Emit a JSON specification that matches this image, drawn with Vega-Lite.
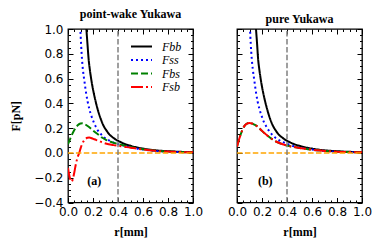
{
  "$schema": "https://vega.github.io/schema/vega-lite/v6.json",
  "padding": {"left": 9, "top": 7, "right": 5, "bottom": 5},
  "datasets": {
    "curves": [
      {"p":"a","s":"Fbb","r":0.13,"F":1.3},{"p":"a","s":"Fbb","r":0.14,"F":1.1},{"p":"a","s":"Fbb","r":0.147,"F":1.0},{"p":"a","s":"Fbb","r":0.155,"F":0.89},{"p":"a","s":"Fbb","r":0.165,"F":0.757},{"p":"a","s":"Fbb","r":0.175,"F":0.67},{"p":"a","s":"Fbb","r":0.185,"F":0.6},{"p":"a","s":"Fbb","r":0.195,"F":0.54},{"p":"a","s":"Fbb","r":0.205,"F":0.488},{"p":"a","s":"Fbb","r":0.22,"F":0.42},{"p":"a","s":"Fbb","r":0.237,"F":0.353},{"p":"a","s":"Fbb","r":0.26,"F":0.28},{"p":"a","s":"Fbb","r":0.285,"F":0.218},{"p":"a","s":"Fbb","r":0.31,"F":0.178},{"p":"a","s":"Fbb","r":0.33,"F":0.15},{"p":"a","s":"Fbb","r":0.355,"F":0.128},{"p":"a","s":"Fbb","r":0.379,"F":0.11},{"p":"a","s":"Fbb","r":0.42,"F":0.088},{"p":"a","s":"Fbb","r":0.459,"F":0.07},{"p":"a","s":"Fbb","r":0.5,"F":0.058},{"p":"a","s":"Fbb","r":0.55,"F":0.045},{"p":"a","s":"Fbb","r":0.6,"F":0.035},{"p":"a","s":"Fbb","r":0.65,"F":0.027},{"p":"a","s":"Fbb","r":0.7,"F":0.021},{"p":"a","s":"Fbb","r":0.75,"F":0.017},{"p":"a","s":"Fbb","r":0.8,"F":0.014},{"p":"a","s":"Fbb","r":0.85,"F":0.011},{"p":"a","s":"Fbb","r":0.9,"F":0.009},{"p":"a","s":"Fbb","r":0.95,"F":0.007},{"p":"a","s":"Fbb","r":1.0,"F":0.006},

      {"p":"a","s":"Fss","r":0.088,"F":1.3},{"p":"a","s":"Fss","r":0.094,"F":1.13},{"p":"a","s":"Fss","r":0.099,"F":1.0},{"p":"a","s":"Fss","r":0.105,"F":0.87},{"p":"a","s":"Fss","r":0.112,"F":0.757},{"p":"a","s":"Fss","r":0.12,"F":0.665},{"p":"a","s":"Fss","r":0.13,"F":0.59},{"p":"a","s":"Fss","r":0.144,"F":0.488},{"p":"a","s":"Fss","r":0.157,"F":0.415},{"p":"a","s":"Fss","r":0.171,"F":0.353},{"p":"a","s":"Fss","r":0.19,"F":0.29},{"p":"a","s":"Fss","r":0.205,"F":0.25},{"p":"a","s":"Fss","r":0.219,"F":0.218},{"p":"a","s":"Fss","r":0.24,"F":0.18},{"p":"a","s":"Fss","r":0.265,"F":0.15},{"p":"a","s":"Fss","r":0.29,"F":0.125},{"p":"a","s":"Fss","r":0.312,"F":0.11},{"p":"a","s":"Fss","r":0.35,"F":0.09},{"p":"a","s":"Fss","r":0.38,"F":0.077},{"p":"a","s":"Fss","r":0.419,"F":0.067},{"p":"a","s":"Fss","r":0.46,"F":0.055},{"p":"a","s":"Fss","r":0.5,"F":0.045},{"p":"a","s":"Fss","r":0.55,"F":0.035},{"p":"a","s":"Fss","r":0.6,"F":0.027},{"p":"a","s":"Fss","r":0.65,"F":0.021},{"p":"a","s":"Fss","r":0.7,"F":0.016},{"p":"a","s":"Fss","r":0.75,"F":0.013},{"p":"a","s":"Fss","r":0.8,"F":0.01},{"p":"a","s":"Fss","r":0.85,"F":0.008},{"p":"a","s":"Fss","r":0.9,"F":0.006},{"p":"a","s":"Fss","r":0.95,"F":0.005},{"p":"a","s":"Fss","r":1.0,"F":0.004},

      {"p":"a","s":"Fbs","r":0.0,"F":0.07},{"p":"a","s":"Fbs","r":0.02,"F":0.12},{"p":"a","s":"Fbs","r":0.04,"F":0.165},{"p":"a","s":"Fbs","r":0.06,"F":0.2},{"p":"a","s":"Fbs","r":0.08,"F":0.225},{"p":"a","s":"Fbs","r":0.1,"F":0.238},{"p":"a","s":"Fbs","r":0.117,"F":0.24},{"p":"a","s":"Fbs","r":0.135,"F":0.232},{"p":"a","s":"Fbs","r":0.16,"F":0.215},{"p":"a","s":"Fbs","r":0.19,"F":0.19},{"p":"a","s":"Fbs","r":0.22,"F":0.165},{"p":"a","s":"Fbs","r":0.25,"F":0.143},{"p":"a","s":"Fbs","r":0.272,"F":0.124},{"p":"a","s":"Fbs","r":0.3,"F":0.108},{"p":"a","s":"Fbs","r":0.34,"F":0.09},{"p":"a","s":"Fbs","r":0.379,"F":0.078},{"p":"a","s":"Fbs","r":0.42,"F":0.066},{"p":"a","s":"Fbs","r":0.459,"F":0.057},{"p":"a","s":"Fbs","r":0.5,"F":0.048},{"p":"a","s":"Fbs","r":0.55,"F":0.038},{"p":"a","s":"Fbs","r":0.6,"F":0.03},{"p":"a","s":"Fbs","r":0.65,"F":0.024},{"p":"a","s":"Fbs","r":0.7,"F":0.018},{"p":"a","s":"Fbs","r":0.75,"F":0.014},{"p":"a","s":"Fbs","r":0.8,"F":0.011},{"p":"a","s":"Fbs","r":0.85,"F":0.009},{"p":"a","s":"Fbs","r":0.9,"F":0.007},{"p":"a","s":"Fbs","r":0.95,"F":0.006},{"p":"a","s":"Fbs","r":1.0,"F":0.005},

      {"p":"a","s":"Fsb","r":0.0,"F":-0.12},{"p":"a","s":"Fsb","r":0.01,"F":-0.18},{"p":"a","s":"Fsb","r":0.02,"F":-0.22},{"p":"a","s":"Fsb","r":0.03,"F":-0.23},{"p":"a","s":"Fsb","r":0.04,"F":-0.205},{"p":"a","s":"Fsb","r":0.05,"F":-0.16},{"p":"a","s":"Fsb","r":0.06,"F":-0.105},{"p":"a","s":"Fsb","r":0.07,"F":-0.06},{"p":"a","s":"Fsb","r":0.08,"F":-0.025},{"p":"a","s":"Fsb","r":0.09,"F":0.0},{"p":"a","s":"Fsb","r":0.1,"F":0.035},{"p":"a","s":"Fsb","r":0.11,"F":0.065},{"p":"a","s":"Fsb","r":0.125,"F":0.095},{"p":"a","s":"Fsb","r":0.14,"F":0.112},{"p":"a","s":"Fsb","r":0.155,"F":0.122},{"p":"a","s":"Fsb","r":0.17,"F":0.124},{"p":"a","s":"Fsb","r":0.19,"F":0.118},{"p":"a","s":"Fsb","r":0.21,"F":0.11},{"p":"a","s":"Fsb","r":0.245,"F":0.097},{"p":"a","s":"Fsb","r":0.28,"F":0.083},{"p":"a","s":"Fsb","r":0.325,"F":0.07},{"p":"a","s":"Fsb","r":0.365,"F":0.063},{"p":"a","s":"Fsb","r":0.405,"F":0.057},{"p":"a","s":"Fsb","r":0.45,"F":0.05},{"p":"a","s":"Fsb","r":0.5,"F":0.042},{"p":"a","s":"Fsb","r":0.55,"F":0.035},{"p":"a","s":"Fsb","r":0.6,"F":0.028},{"p":"a","s":"Fsb","r":0.65,"F":0.022},{"p":"a","s":"Fsb","r":0.7,"F":0.017},{"p":"a","s":"Fsb","r":0.75,"F":0.013},{"p":"a","s":"Fsb","r":0.8,"F":0.011},{"p":"a","s":"Fsb","r":0.85,"F":0.009},{"p":"a","s":"Fsb","r":0.9,"F":0.007},{"p":"a","s":"Fsb","r":0.95,"F":0.006},{"p":"a","s":"Fsb","r":1.0,"F":0.005},

      {"p":"b","s":"Fbb","r":0.135,"F":1.3},{"p":"b","s":"Fbb","r":0.145,"F":1.1},{"p":"b","s":"Fbb","r":0.152,"F":1.0},{"p":"b","s":"Fbb","r":0.16,"F":0.89},{"p":"b","s":"Fbb","r":0.169,"F":0.757},{"p":"b","s":"Fbb","r":0.179,"F":0.67},{"p":"b","s":"Fbb","r":0.189,"F":0.6},{"p":"b","s":"Fbb","r":0.199,"F":0.54},{"p":"b","s":"Fbb","r":0.209,"F":0.488},{"p":"b","s":"Fbb","r":0.224,"F":0.42},{"p":"b","s":"Fbb","r":0.241,"F":0.353},{"p":"b","s":"Fbb","r":0.263,"F":0.28},{"p":"b","s":"Fbb","r":0.288,"F":0.218},{"p":"b","s":"Fbb","r":0.312,"F":0.178},{"p":"b","s":"Fbb","r":0.332,"F":0.15},{"p":"b","s":"Fbb","r":0.357,"F":0.128},{"p":"b","s":"Fbb","r":0.38,"F":0.11},{"p":"b","s":"Fbb","r":0.42,"F":0.088},{"p":"b","s":"Fbb","r":0.459,"F":0.07},{"p":"b","s":"Fbb","r":0.5,"F":0.058},{"p":"b","s":"Fbb","r":0.55,"F":0.045},{"p":"b","s":"Fbb","r":0.6,"F":0.035},{"p":"b","s":"Fbb","r":0.65,"F":0.027},{"p":"b","s":"Fbb","r":0.7,"F":0.021},{"p":"b","s":"Fbb","r":0.75,"F":0.017},{"p":"b","s":"Fbb","r":0.8,"F":0.014},{"p":"b","s":"Fbb","r":0.85,"F":0.011},{"p":"b","s":"Fbb","r":0.9,"F":0.009},{"p":"b","s":"Fbb","r":0.95,"F":0.007},{"p":"b","s":"Fbb","r":1.0,"F":0.006},

      {"p":"b","s":"Fss","r":0.092,"F":1.3},{"p":"b","s":"Fss","r":0.098,"F":1.13},{"p":"b","s":"Fss","r":0.104,"F":1.0},{"p":"b","s":"Fss","r":0.11,"F":0.88},{"p":"b","s":"Fss","r":0.118,"F":0.76},{"p":"b","s":"Fss","r":0.127,"F":0.67},{"p":"b","s":"Fss","r":0.138,"F":0.59},{"p":"b","s":"Fss","r":0.152,"F":0.488},{"p":"b","s":"Fss","r":0.165,"F":0.415},{"p":"b","s":"Fss","r":0.18,"F":0.353},{"p":"b","s":"Fss","r":0.2,"F":0.29},{"p":"b","s":"Fss","r":0.215,"F":0.25},{"p":"b","s":"Fss","r":0.232,"F":0.218},{"p":"b","s":"Fss","r":0.255,"F":0.18},{"p":"b","s":"Fss","r":0.28,"F":0.148},{"p":"b","s":"Fss","r":0.3,"F":0.128},{"p":"b","s":"Fss","r":0.325,"F":0.11},{"p":"b","s":"Fss","r":0.36,"F":0.09},{"p":"b","s":"Fss","r":0.4,"F":0.074},{"p":"b","s":"Fss","r":0.45,"F":0.056},{"p":"b","s":"Fss","r":0.5,"F":0.044},{"p":"b","s":"Fss","r":0.55,"F":0.035},{"p":"b","s":"Fss","r":0.6,"F":0.027},{"p":"b","s":"Fss","r":0.65,"F":0.021},{"p":"b","s":"Fss","r":0.7,"F":0.016},{"p":"b","s":"Fss","r":0.75,"F":0.013},{"p":"b","s":"Fss","r":0.8,"F":0.01},{"p":"b","s":"Fss","r":0.85,"F":0.008},{"p":"b","s":"Fss","r":0.9,"F":0.006},{"p":"b","s":"Fss","r":0.95,"F":0.005},{"p":"b","s":"Fss","r":1.0,"F":0.004},

      {"p":"b","s":"Fbs","r":0.0,"F":0.05},{"p":"b","s":"Fbs","r":0.02,"F":0.12},{"p":"b","s":"Fbs","r":0.04,"F":0.178},{"p":"b","s":"Fbs","r":0.06,"F":0.218},{"p":"b","s":"Fbs","r":0.08,"F":0.237},{"p":"b","s":"Fbs","r":0.099,"F":0.242},{"p":"b","s":"Fbs","r":0.12,"F":0.238},{"p":"b","s":"Fbs","r":0.14,"F":0.228},{"p":"b","s":"Fbs","r":0.165,"F":0.212},{"p":"b","s":"Fbs","r":0.2,"F":0.178},{"p":"b","s":"Fbs","r":0.245,"F":0.138},{"p":"b","s":"Fbs","r":0.28,"F":0.112},{"p":"b","s":"Fbs","r":0.325,"F":0.086},{"p":"b","s":"Fbs","r":0.365,"F":0.07},{"p":"b","s":"Fbs","r":0.405,"F":0.058},{"p":"b","s":"Fbs","r":0.45,"F":0.049},{"p":"b","s":"Fbs","r":0.5,"F":0.04},{"p":"b","s":"Fbs","r":0.55,"F":0.033},{"p":"b","s":"Fbs","r":0.6,"F":0.026},{"p":"b","s":"Fbs","r":0.65,"F":0.021},{"p":"b","s":"Fbs","r":0.7,"F":0.016},{"p":"b","s":"Fbs","r":0.75,"F":0.013},{"p":"b","s":"Fbs","r":0.8,"F":0.01},{"p":"b","s":"Fbs","r":0.85,"F":0.008},{"p":"b","s":"Fbs","r":0.9,"F":0.007},{"p":"b","s":"Fbs","r":0.95,"F":0.006},{"p":"b","s":"Fbs","r":1.0,"F":0.005},

      {"p":"b","s":"Fsb","r":0.0,"F":0.05},{"p":"b","s":"Fsb","r":0.02,"F":0.12},{"p":"b","s":"Fsb","r":0.04,"F":0.178},{"p":"b","s":"Fsb","r":0.06,"F":0.218},{"p":"b","s":"Fsb","r":0.08,"F":0.237},{"p":"b","s":"Fsb","r":0.099,"F":0.242},{"p":"b","s":"Fsb","r":0.12,"F":0.238},{"p":"b","s":"Fsb","r":0.14,"F":0.228},{"p":"b","s":"Fsb","r":0.165,"F":0.212},{"p":"b","s":"Fsb","r":0.2,"F":0.178},{"p":"b","s":"Fsb","r":0.245,"F":0.138},{"p":"b","s":"Fsb","r":0.28,"F":0.112},{"p":"b","s":"Fsb","r":0.325,"F":0.086},{"p":"b","s":"Fsb","r":0.365,"F":0.07},{"p":"b","s":"Fsb","r":0.405,"F":0.058},{"p":"b","s":"Fsb","r":0.45,"F":0.049},{"p":"b","s":"Fsb","r":0.5,"F":0.04},{"p":"b","s":"Fsb","r":0.55,"F":0.033},{"p":"b","s":"Fsb","r":0.6,"F":0.026},{"p":"b","s":"Fsb","r":0.65,"F":0.021},{"p":"b","s":"Fsb","r":0.7,"F":0.016},{"p":"b","s":"Fsb","r":0.75,"F":0.013},{"p":"b","s":"Fsb","r":0.8,"F":0.01},{"p":"b","s":"Fsb","r":0.85,"F":0.008},{"p":"b","s":"Fsb","r":0.9,"F":0.007},{"p":"b","s":"Fsb","r":0.95,"F":0.006},{"p":"b","s":"Fsb","r":1.0,"F":0.005}
    ]
  },
  "hconcat": [
    {
      "width": 125, "height": 173.5,
      "title": {"text": "point-wake Yukawa"},
      "resolve": {"axis": {"x": "independent", "y": "independent"}},
      "layer": [
        {
          "data": {"name": "curves"},
          "transform": [{"filter": "datum.p === 'a'"}],
          "mark": {"type": "line", "clip": true, "strokeWidth": 2, "interpolate": "monotone"},
          "encoding": {
            "x": {"field": "r", "type": "quantitative", "scale": {"domain": [0, 1], "nice": false},
                  "axis": {"orient": "bottom", "values": [0, 0.2, 0.4, 0.6, 0.8, 1.0], "format": ".1f", "tickSize": -5, "labelPadding": 9, "title": "r[mm]", "titlePadding": 9}},
            "y": {"field": "F", "type": "quantitative", "scale": {"domain": [-0.4, 1.0], "nice": false, "zero": false},
                  "axis": {"orient": "left", "values": [-0.4, -0.2, 0, 0.2, 0.4, 0.6, 0.8, 1.0], "format": ".1f", "tickSize": -5, "labelPadding": 10, "title": "F[pN]", "titlePadding": 11}},
            "color": {"field": "s", "type": "nominal", "scale": {"domain": ["Fbb", "Fss", "Fbs", "Fsb"], "range": ["#000000", "#0000ff", "#008000", "#ff0000"]}, "legend": {"title": null, "orient": "top-right"}},
            "strokeDash": {"field": "s", "type": "nominal", "scale": {"domain": ["Fbb", "Fss", "Fbs", "Fsb"], "range": [[1, 0], [2, 3], [7, 3], [12, 3, 2, 3]]}, "legend": {"title": null, "orient": "top-right"}}
          }
        },
        {
          "data": {"values": [{}]},
          "mark": {"type": "rule", "color": "#ffa500", "strokeWidth": 1.5, "strokeDash": [5.5, 2.4]},
          "encoding": {
            "x": {"datum": 0, "type": "quantitative", "axis": {"orient": "bottom", "values": [0.05,0.1,0.15,0.25,0.3,0.35,0.45,0.5,0.55,0.65,0.7,0.75,0.85,0.9,0.95], "labels": false, "tickSize": -2.5, "title": null}},
            "x2": {"datum": 1},
            "y": {"datum": 0, "type": "quantitative", "axis": {"orient": "left", "values": [-0.35,-0.3,-0.25,-0.15,-0.1,-0.05,0.05,0.1,0.15,0.25,0.3,0.35,0.45,0.5,0.55,0.65,0.7,0.75,0.85,0.9,0.95], "labels": false, "tickSize": -2.5, "title": null}}
          }
        },
        {
          "data": {"values": [{}]},
          "mark": {"type": "rule", "color": "#808080", "strokeWidth": 1.5, "strokeDash": [5.5, 2.4]},
          "encoding": {
            "x": {"datum": 0.4, "type": "quantitative", "axis": {"orient": "top", "values": [0, 0.2, 0.4, 0.6, 0.8, 1.0], "labels": false, "tickSize": -5, "title": null}},
            "y": {"datum": -0.4, "type": "quantitative", "axis": {"orient": "right", "values": [-0.4, -0.2, 0, 0.2, 0.4, 0.6, 0.8, 1.0], "labels": false, "tickSize": -5, "title": null}},
            "y2": {"datum": 1.0}
          }
        },
        {
          "data": {"values": [{}]},
          "mark": {"type": "text", "font": "Liberation Serif", "fontWeight": "bold", "fontSize": 12, "color": "black"},
          "encoding": {
            "text": {"value": "(a)"},
            "x": {"datum": 0.21, "type": "quantitative", "axis": {"orient": "top", "values": [0.05,0.1,0.15,0.25,0.3,0.35,0.45,0.5,0.55,0.65,0.7,0.75,0.85,0.9,0.95], "labels": false, "tickSize": -2.5, "title": null}},
            "y": {"datum": -0.23, "type": "quantitative", "axis": {"orient": "right", "values": [-0.35,-0.3,-0.25,-0.15,-0.1,-0.05,0.05,0.1,0.15,0.25,0.3,0.35,0.45,0.5,0.55,0.65,0.7,0.75,0.85,0.9,0.95], "labels": false, "tickSize": -2.5, "title": null}}
          }
        }
      ]
    },
    {
      "width": 125, "height": 173.5,
      "title": {"text": "pure Yukawa"},
      "resolve": {"axis": {"x": "independent", "y": "independent"}},
      "layer": [
        {
          "data": {"name": "curves"},
          "transform": [{"filter": "datum.p === 'b'"}],
          "mark": {"type": "line", "clip": true, "strokeWidth": 2, "interpolate": "monotone"},
          "encoding": {
            "x": {"field": "r", "type": "quantitative", "scale": {"domain": [0, 1], "nice": false},
                  "axis": {"orient": "bottom", "values": [0, 0.2, 0.4, 0.6, 0.8, 1.0], "format": ".1f", "tickSize": -5, "labelPadding": 9, "title": "r[mm]", "titlePadding": 9}},
            "y": {"field": "F", "type": "quantitative", "scale": {"domain": [-0.4, 1.0], "nice": false, "zero": false},
                  "axis": {"orient": "left", "values": [-0.4, -0.2, 0, 0.2, 0.4, 0.6, 0.8, 1.0], "labels": false, "tickSize": -5, "title": null}},
            "color": {"field": "s", "type": "nominal", "scale": {"domain": ["Fbb", "Fss", "Fbs", "Fsb"], "range": ["#000000", "#0000ff", "#008000", "#ff0000"]}, "legend": null},
            "strokeDash": {"field": "s", "type": "nominal", "scale": {"domain": ["Fbb", "Fss", "Fbs", "Fsb"], "range": [[1, 0], [2, 3], [7, 3], [12, 3, 2, 3]]}, "legend": null}
          }
        },
        {
          "data": {"values": [{}]},
          "mark": {"type": "rule", "color": "#ffa500", "strokeWidth": 1.5, "strokeDash": [5.5, 2.4]},
          "encoding": {
            "x": {"datum": 0, "type": "quantitative", "axis": {"orient": "bottom", "values": [0.05,0.1,0.15,0.25,0.3,0.35,0.45,0.5,0.55,0.65,0.7,0.75,0.85,0.9,0.95], "labels": false, "tickSize": -2.5, "title": null}},
            "x2": {"datum": 1},
            "y": {"datum": 0, "type": "quantitative", "axis": {"orient": "left", "values": [-0.35,-0.3,-0.25,-0.15,-0.1,-0.05,0.05,0.1,0.15,0.25,0.3,0.35,0.45,0.5,0.55,0.65,0.7,0.75,0.85,0.9,0.95], "labels": false, "tickSize": -2.5, "title": null}}
          }
        },
        {
          "data": {"values": [{}]},
          "mark": {"type": "rule", "color": "#808080", "strokeWidth": 1.5, "strokeDash": [5.5, 2.4]},
          "encoding": {
            "x": {"datum": 0.4, "type": "quantitative", "axis": {"orient": "top", "values": [0, 0.2, 0.4, 0.6, 0.8, 1.0], "labels": false, "tickSize": -5, "title": null}},
            "y": {"datum": -0.4, "type": "quantitative", "axis": {"orient": "right", "values": [-0.4, -0.2, 0, 0.2, 0.4, 0.6, 0.8, 1.0], "labels": false, "tickSize": -5, "title": null}},
            "y2": {"datum": 1.0}
          }
        },
        {
          "data": {"values": [{}]},
          "mark": {"type": "text", "font": "Liberation Serif", "fontWeight": "bold", "fontSize": 12, "color": "black"},
          "encoding": {
            "text": {"value": "(b)"},
            "x": {"datum": 0.226, "type": "quantitative", "axis": {"orient": "top", "values": [0.05,0.1,0.15,0.25,0.3,0.35,0.45,0.5,0.55,0.65,0.7,0.75,0.85,0.9,0.95], "labels": false, "tickSize": -2.5, "title": null}},
            "y": {"datum": -0.23, "type": "quantitative", "axis": {"orient": "right", "values": [-0.35,-0.3,-0.25,-0.15,-0.1,-0.05,0.05,0.1,0.15,0.25,0.3,0.35,0.45,0.5,0.55,0.65,0.7,0.75,0.85,0.9,0.95], "labels": false, "tickSize": -2.5, "title": null}}
          }
        }
      ]
    }
  ],
  "spacing": 44,
  "bounds": "flush",
  "resolve": {"scale": {"color": "independent", "strokeDash": "independent"}},
  "config": {
    "view": {"stroke": "black", "strokeWidth": 1.3},
    "axis": {
      "domain": false, "grid": false, "minExtent": 0, "maxExtent": 200,
      "tickColor": "black", "tickWidth": 1,
      "labelFont": "DejaVu Sans", "labelFontSize": 12, "labelColor": "black", "labelOverlap": false, "labelFlush": false,
      "titleFont": "Liberation Serif", "titleFontWeight": "bold", "titleFontSize": 12, "titleColor": "black"
    },
    "title": {"font": "Liberation Serif", "fontWeight": "bold", "fontSize": 12, "color": "black", "offset": 2, "anchor": "middle"},
    "legend": {
      "offset": 11, "padding": 0, "labelFont": "Liberation Serif", "labelFontStyle": "italic", "labelFontSize": 12, "labelColor": "black",
      "symbolSize": 441, "symbolStrokeWidth": 2, "symbolType": "stroke", "clipHeight": 13, "rowPadding": 0.5, "labelOffset": 9
    }
  }
}
